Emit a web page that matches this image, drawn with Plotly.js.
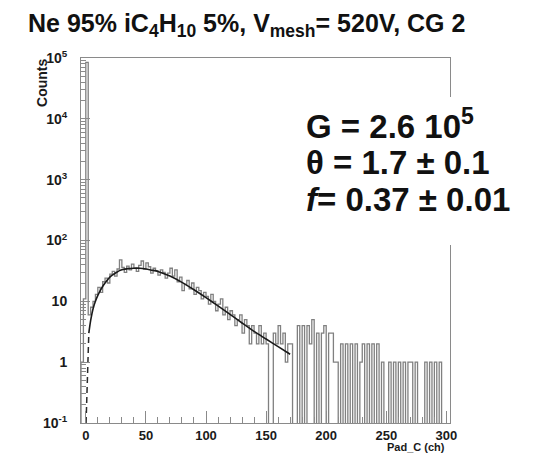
<!DOCTYPE html>
<html><head><meta charset="utf-8">
<script src="https://cdn.plot.ly/plotly-3.0.1.min.js"></script>
<style>html,body{margin:0;padding:0;background:#fff}#chart{width:534px;height:459px}</style>
</head><body><div id="chart"></div>
<script>
// Histogram definition: bins of 2 channels starting at -4
const binStart = -4;
const binWidth = 2;
const counts = [
  1, 11, 85000,
  6, 8, 10, 13, 17, 14, 21, 24, 20, 28,
  31, 26, 34, 48, 36, 30, 38, 33, 41, 35,
  31, 39, 46, 34, 43, 37, 29, 35, 32, 27,
  33, 30, 24, 29, 35, 26, 33, 21, 25, 15,
  19, 22, 16, 20, 13, 17, 15, 11, 14, 12,
  9, 13, 10, 7, 9, 11, 6, 8, 5, 7,
  6, 4, 5, 6, 3, 5, 4, 2, 4, 3,
  2, 4, 2, 3,
  2, 0, 0, 3, 2, 4, 2, 3, 1, 2,
  2, 0, 0, 4, 0, 4, 0, 4, 2, 5, 0, 3, 0, 3, 4, 0, 3, 3, 1, 1,
  0, 2, 0, 2, 0, 2, 0, 2, 0, 1, 2, 0, 2, 0, 2, 0, 2, 0, 1, 0,
  0, 1, 0, 1, 0, 1, 0, 1, 0, 1, 1, 0, 1, 0, 0, 0, 1, 0, 1, 0,
  1, 0, 1, 0, 0
];

// Fit curve (Polya)
const fitX = [2.5, 4, 6, 8, 10, 12, 14, 16, 18, 20, 22, 25, 28, 30, 35, 40, 45, 50, 55, 60, 70, 80, 90, 100, 110, 120, 130, 140, 150, 160, 170];
const fitY = [3, 4.8, 7.5, 10, 12.5, 15, 17.5, 20, 22.5, 25, 27, 29.5, 32, 33, 34.5, 35, 35, 34, 32.5, 31, 26, 20.5, 15.5, 11.5, 8.4, 6.1, 4.4, 3.2, 2.4, 1.8, 1.35];
// Dashed extension of the fit below the fit range
const dashX = [0.2, 0.8, 1.4, 2.0, 2.5];
const dashY = [0.1, 0.3, 0.8, 1.7, 3];

const xTickVals = [0, 50, 100, 150, 200, 250, 300];
const yTickVals = [0.1, 1, 10, 100, 1000, 10000, 100000];
const yTickText = ['10<sup>-1</sup>', '1', '10', '10<sup>2</sup>', '10<sup>3</sup>', '10<sup>4</sup>', '10<sup>5</sup>'];

const titleText = 'Ne 95% iC<sub>4</sub>H<sub>10</sub> 5%, V<sub>mesh</sub>= 520V, CG 2';
const statLines = ['G = 2.6 10<sup>5</sup>', '\u03b8 = 1.7 \u00b1 0.1', '<i>f</i>= 0.37 \u00b1 0.01'];

// Build step outline (ROOT "hist" style); empty bins drop below the axis
const floorVal = 1e-3;
const hx = [binStart], hy = [floorVal];
counts.forEach((c, i) => { hx.push(binStart + i * binWidth); hy.push(c > 0 ? c : floorVal); });
const lastEdge = binStart + counts.length * binWidth;
hx.push(lastEdge); hy.push(counts[counts.length - 1] > 0 ? counts[counts.length - 1] : floorVal);
hx.push(lastEdge); hy.push(floorVal);

const minorY = [];
for (let d = -1; d < 5; d++) for (let k = 2; k <= 9; k++) minorY.push(k * Math.pow(10, d));

const FONT = 'Liberation Sans, Arial, Helvetica, sans-serif';

const traces = [
  {x: hx, y: hy, type: 'scatter', mode: 'lines', line: {shape: 'hv', color: '#808080', width: 1.3}, hoverinfo: 'skip'},
  {x: dashX, y: dashY, type: 'scatter', mode: 'lines', line: {color: '#2a2a2a', width: 1.5, dash: '6px,4px'}, hoverinfo: 'skip'},
  {x: fitX, y: fitY, type: 'scatter', mode: 'lines', line: {color: '#1a1a1a', width: 1.6, shape: 'spline', smoothing: 0.6}, hoverinfo: 'skip'}
];

const axisCommon = {showline: true, mirror: true, linecolor: '#8a8a8a', linewidth: 1, showgrid: false, zeroline: false,
  ticks: 'inside', tickcolor: '#8a8a8a', tickwidth: 1,
  tickfont: {family: FONT, size: 13, color: '#1a1a1a', weight: 'bold'}};

const layout = {
  width: 534, height: 459,
  margin: {l: 81, r: 84, t: 58, b: 36},
  paper_bgcolor: '#ffffff', plot_bgcolor: '#ffffff',
  showlegend: false,
  title: {text: titleText, x: 28 / 534, xanchor: 'left', xref: 'container', y: 1 - 23 / 459, yanchor: 'middle', yref: 'container',
    font: {family: FONT, size: 25, color: '#111', weight: 'bold'}},
  xaxis: Object.assign({}, axisCommon, {range: [-4, 303], tickmode: 'array', tickvals: xTickVals, ticklen: 12,
    minor: {tickmode: 'linear', tick0: 0, dtick: 10, ticks: 'inside', ticklen: 6, tickcolor: '#8a8a8a', showgrid: false}}),
  yaxis: Object.assign({}, axisCommon, {type: 'log', range: [-1, 5], tickmode: 'array', tickvals: yTickVals, ticktext: yTickText, ticklen: 9,
    ticklabelstandoff: 10, tickfont: {family: FONT, size: 14, color: '#1a1a1a', weight: 'bold'},
    minor: {tickmode: 'array', tickvals: minorY, ticks: 'inside', ticklen: 5, tickcolor: '#8a8a8a', showgrid: false}}),
  shapes: [
    {type: 'rect', xref: 'paper', yref: 'paper', x0: (295 - 81) / 369, x1: (534 - 81) / 369, y0: (423 - 245) / 365, y1: (423 - 97) / 365,
      fillcolor: '#ffffff', line: {width: 0}, layer: 'above'}
  ],
  annotations: [
    {text: 'Counts', xref: 'paper', yref: 'paper', x: (42 - 81) / 369, y: 1.003, xanchor: 'center', yanchor: 'top', textangle: -90,
      showarrow: false, font: {family: FONT, size: 14, color: '#1a1a1a', weight: 'bold'}},
    {text: 'Pad_C (ch)', xref: 'paper', yref: 'paper', x: (447 - 81) / 369, y: (423 - 447) / 365, xanchor: 'right', yanchor: 'middle',
      showarrow: false, font: {family: FONT, size: 11, color: '#1a1a1a', weight: 'bold'}}
  ]
};
const statY = [124, 162, 200];
statLines.forEach((t, i) => layout.annotations.push({text: t, xref: 'paper', yref: 'paper', x: (304 - 81) / 369, y: (423 - statY[i]) / 365,
  xanchor: 'left', yanchor: 'middle', showarrow: false, font: {family: FONT, size: 33, color: '#111', weight: 'bold'}}));

Plotly.newPlot('chart', traces, layout, {displayModeBar: false, staticPlot: true});
</script>
</body></html>
